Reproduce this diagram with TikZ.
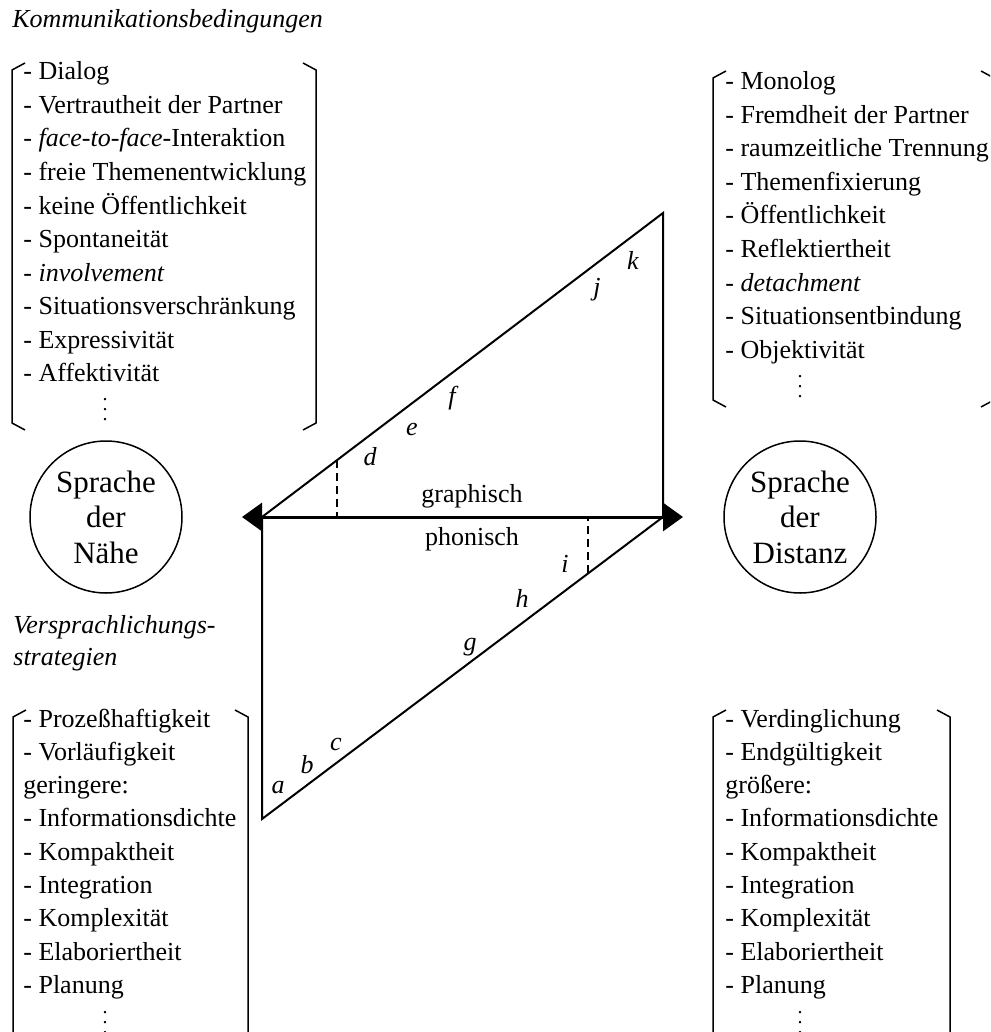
\documentclass[tikz,border=0pt]{standalone}
\usepackage{fontspec}
\setmainfont{Liberation Serif}
\usetikzlibrary{arrows.meta,calc}

\tikzset{
  txt/.style={inner sep=0pt, anchor=base west, font=\fontsize{13}{16}\selectfont},
  lbl/.style={inner sep=0pt, anchor=base, font=\fontsize{13}{16}\selectfont\itshape},
  brk/.style={line width=0.75pt},
  tri/.style={line width=1pt, line join=miter},
  strich/.style={line width=0.6pt, dash pattern=on 4pt off 2.5pt},
  sprache/.style={circle, draw, line width=0.75pt, minimum size=76pt, inner sep=0pt,
    align=center, font=\fontsize{15.5}{17.75}\selectfont},
}
% x links, x rechts, y oben, y unten
\newcommand\klammer[4]{%
  \draw[brk] (#1+13,#3-7) -- (#1,#3) -- (#1,#4) -- (#1+13,#4+7);
  \draw[brk] (#2-13,#3-7) -- (#2,#3) -- (#2,#4) -- (#2-13,#4+7);}
\newcommand\punkte{\vbox{\baselineskip5pt\lineskiplimit0pt\hbox{.}\hbox{.}\hbox{.}}}

\begin{document}
\begin{tikzpicture}[x=0.5pt,y=-0.5pt]
\clip (0,0) rectangle (990,1032);

\node[txt, font=\fontsize{13}{16}\selectfont\itshape] (kom) at (12,28) {Kommunikationsbedingungen};

% Kommunikationsbedingungen
\klammer{12}{316}{70}{423}
\foreach \t [count=\i] in {- Dialog, - Vertrautheit der Partner, - \textit{face-to-face}-Interaktion,
    - freie Themenentwicklung, - keine Öffentlichkeit, - Spontaneität, - \textit{involvement},
    - Situationsverschränkung, - Expressivität, - Affektivität}
  \node[txt] (kn\i) at (23,46.5+33.5*\i) {\t};
\node[inner sep=0pt, anchor=south] (knv) at (105,421) {\punkte};

\klammer{713}{994}{78}{400}
\foreach \t [count=\i] in {- Monolog, - Fremdheit der Partner, - raumzeitliche Trennung,
    - Themenfixierung, - Öffentlichkeit, - Reflektiertheit, - \textit{detachment},
    - Situationsentbindung, - Objektivität}
  \node[txt] (kd\i) at (725,56.5+33.5*\i) {\t};
\node[inner sep=0pt, anchor=south] (kdv) at (800,398) {\punkte};

% Sprache der Naehe / Distanz
\node[sprache] (nah) at (106,517) {Sprache\\der\\Nähe};
\node[sprache] (dist) at (800,517) {Sprache\\der\\Distanz};

\coordinate (L) at (262,517);
\coordinate (R) at (663,517);
\coordinate (T) at (663,213);
\coordinate (B) at (262,819);
\draw[tri] (L) -- (T) -- (R);
\draw[tri] (L) -- (B) -- (R);
\draw[line width=1.5pt, {Triangle[length=10pt,width=14pt]}-{Triangle[length=10pt,width=14pt]},
  shorten <=-10pt, shorten >=-10pt] (L) -- (R);

\coordinate (dg) at ($(L)!0.187!(T)$);
\coordinate (dp) at ($(B)!0.813!(R)$);
\draw[strich] (dg) -- (dg |- L);
\draw[strich] (dp) -- (dp |- R);

\node[txt, anchor=base] (gra) at (472,502) {graphisch};
\node[txt, anchor=base] (pho) at (472,545) {phonisch};

\foreach \b/\x/\y in {a/278/793, b/307/773, c/336/750, d/370/465, e/412/435, f/452/404,
    g/470/650, h/522/607, i/565/572, j/597/295, k/633/270}
  \node[lbl] (m-\b) at (\x,\y) {\b};

% Versprachlichungsstrategien
\node[txt, font=\fontsize{13}{16}\selectfont\itshape] (ver1) at (13,633) {Versprachlichungs-};
\node[txt, font=\fontsize{13}{16}\selectfont\itshape] (ver2) at (13,665) {strategien};

\klammer{13}{248}{717}{1045}
\foreach \t [count=\i] in {- Prozeßhaftigkeit, - Vorläufigkeit, geringere:, - Informationsdichte,
    - Kompaktheit, - Integration, - Komplexität, - Elaboriertheit, - Planung}
  \node[txt] (vn\i) at (23,693.7+33.3*\i) {\t};
\node[inner sep=0pt, anchor=south] (vnv) at (105,1034) {\punkte};

\klammer{713}{950}{717}{1045}
\foreach \t [count=\i] in {- Verdinglichung, - Endgültigkeit, größere:, - Informationsdichte,
    - Kompaktheit, - Integration, - Komplexität, - Elaboriertheit, - Planung}
  \node[txt] (vd\i) at (725,693.7+33.3*\i) {\t};
\node[inner sep=0pt, anchor=south] (vdv) at (800,1034) {\punkte};
\end{tikzpicture}
\end{document}
